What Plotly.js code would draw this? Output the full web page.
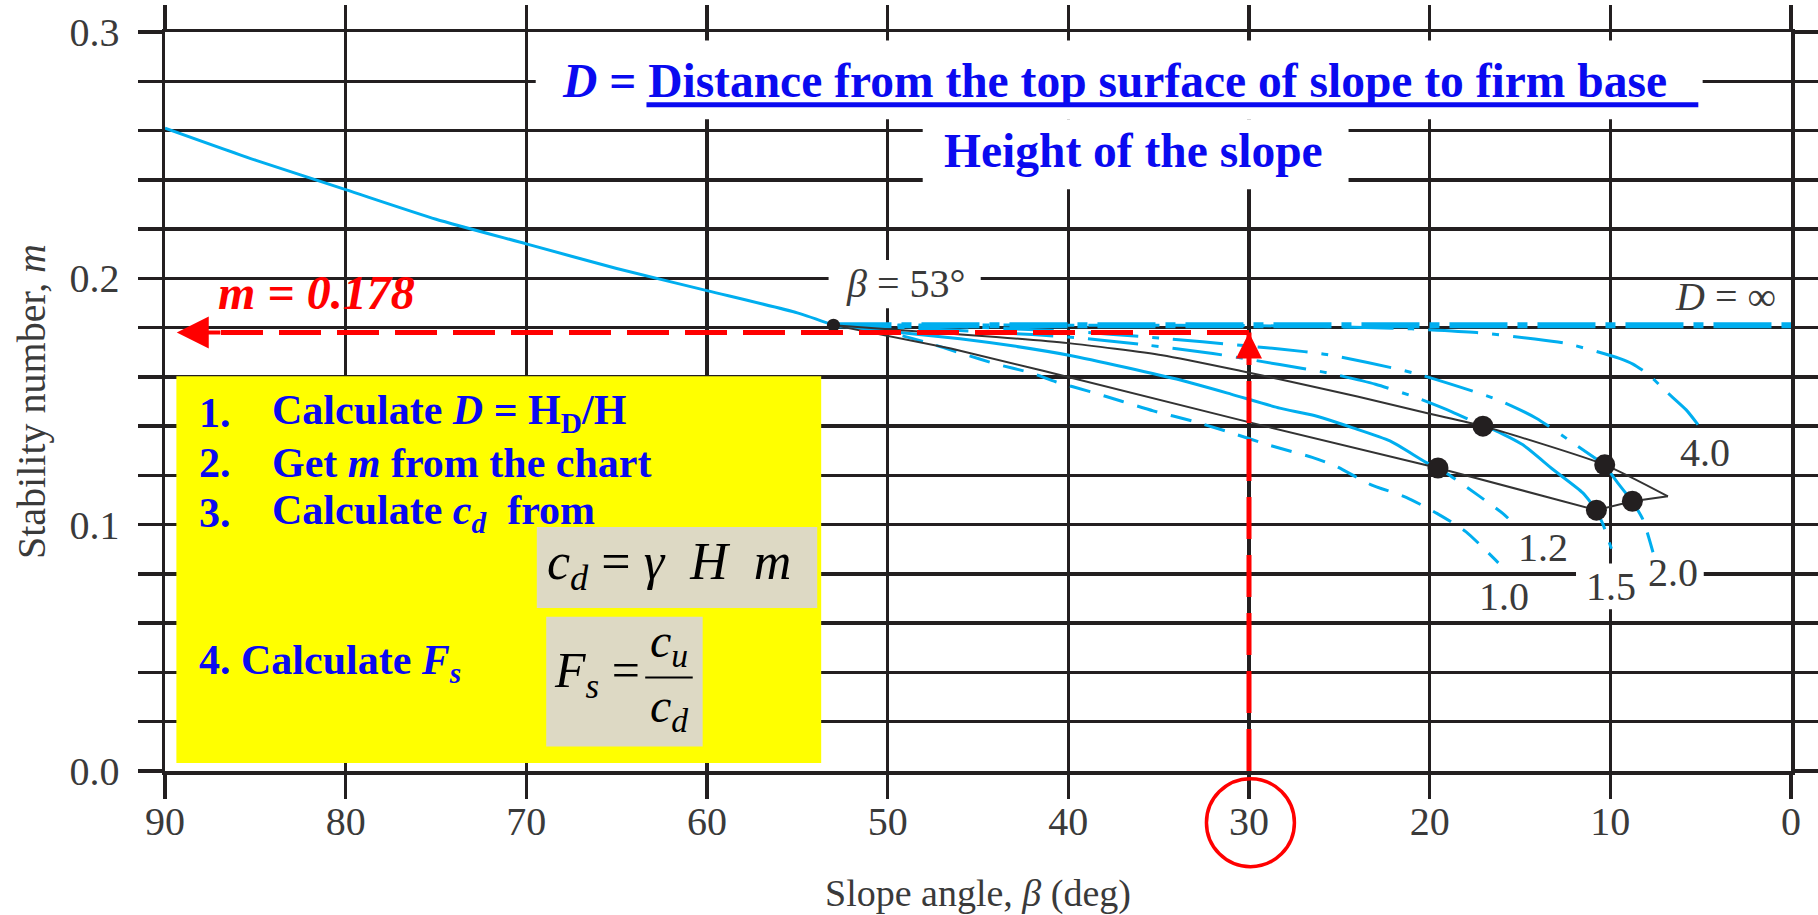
<!DOCTYPE html>
<html>
<head>
<meta charset="utf-8">
<script src="https://cdn.plot.ly/plotly-3.0.1.min.js"></script>
<style>
  html, body { margin: 0; padding: 0; background: #ffffff; }
  #chart { width: 1818px; height: 915px; }
</style>
</head>
<body>
<div id="chart"></div>
<script>
// Taylor's stability chart (phi = 0): stability number m against slope angle beta
// for several depth factors D = H_D / H.

// Axis ticks
const betaTicks = [90, 80, 70, 60, 50, 40, 30, 20, 10, 0];
const mTicks = [0, 0.1, 0.2, 0.3];
const mTickText = ['0.0', '0.1', '0.2', '0.3'];
const mMinorStep = 0.02;

// Steep slopes (beta > 53 deg): a single curve for every D
const steepBeta = [90, 85, 80, 75, 70, 65, 60, 55, 53];
const steepM = [0.261, 0.248, 0.236, 0.224, 0.214, 0.204, 0.195, 0.186, 0.181];

// D = 1.0 (midpoint circles)
const d10MidBeta = [53, 50.3, 48, 45.8, 44, 42.1, 40.7, 38.8, 37, 35.3, 33.1, 31.2, 28.85, 26.5, 25.2, 23.3, 21.3, 19.6, 18, 16.5, 16.2];
const d10MidM = [0.181, 0.1786, 0.1743, 0.1693, 0.1652, 0.1617, 0.158, 0.154, 0.150, 0.1462, 0.142, 0.1378, 0.1322, 0.1273, 0.1238, 0.1164, 0.1111, 0.1046, 0.0972, 0.0867, 0.0845];

// D = 1.2 (toe circles, then midpoint circles)
const d12ToeBeta = [53, 50, 46, 43, 39.9, 36.8, 33.8, 31, 28.3, 26.5, 24.25, 22.2, 20.2, 19.54];
const d12ToeM = [0.181, 0.1785, 0.1755, 0.1725, 0.1687, 0.1638, 0.1587, 0.153, 0.1473, 0.1445, 0.1393, 0.134, 0.1253, 0.123];
const d12MidBeta = [19.54, 18.8, 17.33, 15.94, 15.66];
const d12MidM = [0.123, 0.1196, 0.112, 0.1045, 0.1026];

// D = 1.5 (slope, toe, midpoint circles)
const d15SlopeBeta = [53, 48, 44, 40, 36, 32, 28.3, 25.7, 23, 20.9, 18.8, 17.05];
const d15SlopeM = [0.181, 0.1795, 0.178, 0.1762, 0.1732, 0.1695, 0.165, 0.1617, 0.157, 0.152, 0.1459, 0.14];
const d15ToeBeta = [17.05, 16.3, 14.84, 13.17, 11.52, 10.77];
const d15ToeM = [0.14, 0.138, 0.1324, 0.1224, 0.1129, 0.1059];
const d15MidBeta = [10.77, 10.4, 9.94];
const d15MidM = [0.1059, 0.10, 0.0902];

// D = 2.0 (slope, toe, midpoint circles)
const d20SlopeBeta = [53, 46, 40, 35, 30, 28.3, 25.7, 20.9, 16.2, 14.1, 11.97, 10.31];
const d20SlopeM = [0.181, 0.1803, 0.1785, 0.1758, 0.1725, 0.1713, 0.1691, 0.1616, 0.1506, 0.1432, 0.1327, 0.1243];
const d20ToeBeta = [10.31, 9.58, 8.78];
const d20ToeM = [0.1243, 0.1169, 0.1095];
const d20MidBeta = [8.78, 8.19, 7.64];
const d20MidM = [0.1095, 0.102, 0.0888];

// D = 4.0 (slope circles)
const d40SlopeBeta = [53, 40, 30, 25, 21, 17.4, 14.3, 12.4, 9.5, 8.75, 7.9, 6.9, 5.8, 5.15];
const d40SlopeM = [0.181, 0.181, 0.1808, 0.1803, 0.1795, 0.178, 0.1755, 0.1735, 0.1675, 0.1652, 0.161, 0.154, 0.1466, 0.1406];

// D = infinity
const dInfBeta = [53, 0];
const dInfM = [0.181, 0.181];

// Zone boundaries between circle types
const upperBoundBeta = [53, 48.65, 44, 40, 34.8, 30.5, 28.3, 24, 20, 17.05, 10.31, 6.81];
const upperBoundM = [0.181, 0.1786, 0.1762, 0.1737, 0.1688, 0.1625, 0.159, 0.152, 0.145, 0.14, 0.1243, 0.1115];
const lowerBoundBeta = [53, 46.5, 41.4, 34.8, 28.85, 19.54, 10.77, 8.78, 6.81];
const lowerBoundM = [0.181, 0.1715, 0.1625, 0.1505, 0.1395, 0.123, 0.1059, 0.1095, 0.1115];

// Transition points between circle types
const junctionBeta = [17.05, 19.54, 10.31, 10.77, 8.78];
const junctionM = [0.14, 0.123, 0.1243, 0.1059, 0.1095];
const criticalBeta = [53];
const criticalM = [0.181];

// Worked example: read m at the design slope angle
const designBeta = 30;
const mRead = 0.178;
const guideEndBeta = 89.35;

// Curve labels
const dLabelText = ['4.0', '1.2', '1.0', '1.5', '2.0'];
const dLabelBeta = [4.74, 13.75, 15.87, 9.98, 6.55];
const dLabelM = [0.1295, 0.0906, 0.0707, 0.075, 0.0805];

const CYAN = '#00aeef';
const INK = '#231f20';
const GREY_TEXT = '#3a3a3a';
const BLUE = '#0a0af0';
const RED = '#ff0000';
const SERIF = 'Liberation Serif, Times New Roman, serif';

const DASH_SLOPE = '50px,14px,7px,14px';
const DASH_MID = '21px,14px';
const DASH_INF = '58px,10px,10px,10px';
const DASH_GUIDE = '42px,16px';

function line(x, y, color, width, dash, smooth) {
  return {
    type: 'scatter', mode: 'lines', x: x, y: y,
    line: { color: color, width: width, dash: dash || 'solid',
            shape: smooth ? 'spline' : 'linear', smoothing: 0.6 },
    hoverinfo: 'skip', showlegend: false
  };
}

const traces = [
  line(steepBeta, steepM, CYAN, 3, 'solid', true),
  line(dInfBeta, dInfM, CYAN, 6, DASH_INF, false),
  line(d40SlopeBeta, d40SlopeM, CYAN, 3, DASH_SLOPE, true),
  line(d20SlopeBeta, d20SlopeM, CYAN, 3, DASH_SLOPE, true),
  line(d20ToeBeta, d20ToeM, CYAN, 3, 'solid', true),
  line(d20MidBeta, d20MidM, CYAN, 3, DASH_MID, true),
  line(d15SlopeBeta, d15SlopeM, CYAN, 3, DASH_SLOPE, true),
  line(d15ToeBeta, d15ToeM, CYAN, 3, 'solid', true),
  line(d15MidBeta, d15MidM, CYAN, 3, DASH_MID, true),
  line(d12ToeBeta, d12ToeM, CYAN, 3, 'solid', true),
  line(d12MidBeta, d12MidM, CYAN, 3, DASH_MID, true),
  line(d10MidBeta, d10MidM, CYAN, 3, DASH_MID, true),
  line(upperBoundBeta, upperBoundM, '#333333', 2, 'solid', true),
  line(lowerBoundBeta, lowerBoundM, '#333333', 2, 'solid', false),
  {
    type: 'scatter', mode: 'markers', x: junctionBeta, y: junctionM,
    marker: { color: INK, size: 21 }, hoverinfo: 'skip', showlegend: false
  },
  {
    type: 'scatter', mode: 'markers', x: criticalBeta, y: criticalM,
    marker: { color: INK, size: 13 }, hoverinfo: 'skip', showlegend: false
  },
  // reading guide: up from beta, across to the m axis
  line([designBeta, designBeta], [0, mRead], RED, 5, DASH_GUIDE, false),
  line([designBeta, guideEndBeta - 0.6], [mRead, mRead], RED, 5, DASH_GUIDE, false)
];

const labelFont = { family: SERIF, size: 40, color: GREY_TEXT };
const stepFont = { family: SERIF, size: 42, color: BLUE };
const mathFont = { family: SERIF, size: 52, color: '#000000' };
const fracFont = { family: SERIF, size: 48, color: '#000000' };

function note(text, x, y, font, xanchor) {
  return { text: text, x: x, y: y, xref: 'x', yref: 'y', showarrow: false,
           font: font, xanchor: xanchor || 'center', yanchor: 'middle' };
}

function arrowHead(xTip, yTip, xTail, yTail, size) {
  return { x: xTip, y: yTip, ax: xTail, ay: yTail, xref: 'x', yref: 'y', axref: 'x', ayref: 'y',
           showarrow: true, arrowhead: 2, arrowsize: size, arrowwidth: 4, arrowcolor: RED,
           text: '', standoff: 0 };
}

const annotations = [
  note('<b><i>D</i> = Distance from the top surface of slope to firm base</b>', 68.15, 0.2800,
       { family: SERIF, size: 47.5, color: BLUE }, 'left'),
  note('<b>Height of the slope</b>', 36.38, 0.2515, { family: SERIF, size: 47.5, color: BLUE }),
  note('<i>β</i> = 53°', 49.0, 0.198, labelFont),
  note('<i>D</i> = ∞', 3.63, 0.1927, labelFont),
  note('<b><i>m = 0.178</i></b>', 87.19, 0.1944, { family: SERIF, size: 48, color: RED }, 'left'),
  note('<b>1.</b>', 88.23, 0.1453, stepFont, 'left'),
  note('<b>Calculate <i>D</i> = H<sub>D</sub>/H</b>', 84.2, 0.1453, stepFont, 'left'),
  note('<b>2.</b>', 88.23, 0.1251, stepFont, 'left'),
  note('<b>Get <i>m</i> from the chart</b>', 84.2, 0.1251, stepFont, 'left'),
  note('<b>3.</b>', 88.23, 0.1048, stepFont, 'left'),
  note('<b>Calculate <i>c<sub>d</sub></i>  from</b>', 84.2, 0.1048, stepFont, 'left'),
  note('<b>4. Calculate <i>F<sub>s</sub></i></b>', 88.23, 0.0439, stepFont, 'left'),
  note('<i>c<sub>d</sub></i> = <i>γ</i>  <i>H</i>  <i>m</i>', 68.98, 0.0833, mathFont, 'left'),
  note('<i>F<sub>s</sub></i> =', 68.6, 0.0393, { family: SERIF, size: 50, color: '#000000' }, 'left'),
  note('<i>c<sub>u</sub></i>', 62.1, 0.0514, fracFont),
  note('<i>c<sub>d</sub></i>', 62.1, 0.0251, fracFont),
  // arrowheads of the reading guide
  arrowHead(guideEndBeta, mRead, guideEndBeta - 2.5, mRead, 1.6),
  arrowHead(designBeta, mRead, designBeta, mRead - 0.012, 1.3)
];

dLabelText.forEach(function (t, i) {
  annotations.push(note(t, dLabelBeta[i], dLabelM[i], labelFont));
});

function box(x0, x1, y0, y1, fill) {
  return { type: 'rect', xref: 'x', yref: 'y', x0: x0, x1: x1, y0: y0, y1: y1,
           fillcolor: fill, line: { width: 0 }, layer: 'between' };
}

const shapes = [
  // clear grid behind the headline text and labels
  box(69.48, 4.89, 0.2646, 0.2966, '#ffffff'),
  box(48.06, 24.49, 0.2362, 0.2646, '#ffffff'),
  box(53.27, 44.85, 0.1879, 0.2074, '#ffffff'),
  box(11.9, 4.83, 0.0657, 0.0842, '#ffffff'),
  // procedure panel
  box(89.37, 53.68, 0.00325, 0.1603, '#ffff00'),
  box(69.42, 53.9, 0.0662, 0.0991, '#ddd9c4'),
  box(68.9, 60.24, 0.0099, 0.0626, '#ddd9c4'),
  // underline of the numerator
  { type: 'line', xref: 'x', yref: 'y', x0: 63.35, x1: 5.13, y0: 0.2705, y1: 0.2705,
    line: { color: BLUE, width: 5 }, layer: 'above' },
  // fraction bar
  { type: 'line', xref: 'x', yref: 'y', x0: 63.42, x1: 60.79, y0: 0.038, y1: 0.038,
    line: { color: '#000000', width: 2 }, layer: 'above' },
  // ring around the design angle
  { type: 'circle', xref: 'paper', yref: 'paper', x0: 0.6405, x1: 0.6946, y0: -0.0104, y1: -0.1294,
    line: { color: RED, width: 3.5 }, layer: 'above' }
];

const GRID_W = 3.5;
const axisCommon = {
  showgrid: true, gridcolor: INK, gridwidth: GRID_W,
  showline: true, linecolor: INK, linewidth: GRID_W, mirror: 'ticks',
  ticks: 'outside', ticklen: 24, tickwidth: GRID_W, tickcolor: INK,
  zeroline: false, tickfont: { family: SERIF, size: 40, color: GREY_TEXT }
};

const layout = {
  width: 1818, height: 915,
  margin: { l: 165, r: 27, t: 32, b: 144 },
  paper_bgcolor: '#ffffff', plot_bgcolor: '#ffffff',
  showlegend: false,
  xaxis: Object.assign({}, axisCommon, {
    range: [90, 0], tickmode: 'array', tickvals: betaTicks,
    ticklabelstandoff: -12,
    title: { text: 'Slope angle, <i>β</i> (deg)', font: { family: SERIF, size: 38, color: GREY_TEXT }, standoff: 48 }
  }),
  yaxis: Object.assign({}, axisCommon, {
    range: [0, 0.3], tickmode: 'array', tickvals: mTicks, ticktext: mTickText,
    ticklabelstandoff: 10,
    minor: { tick0: 0, dtick: mMinorStep, showgrid: true, gridcolor: INK, gridwidth: GRID_W,
             ticks: 'outside', ticklen: 24, tickwidth: GRID_W, tickcolor: INK },
    title: { text: 'Stability number, <i>m</i>', font: { family: SERIF, size: 40, color: GREY_TEXT }, standoff: 12 }
  }),
  annotations: annotations,
  shapes: shapes
};

Plotly.newPlot('chart', traces, layout, { staticPlot: true, displayModeBar: false });
</script>
</body>
</html>
